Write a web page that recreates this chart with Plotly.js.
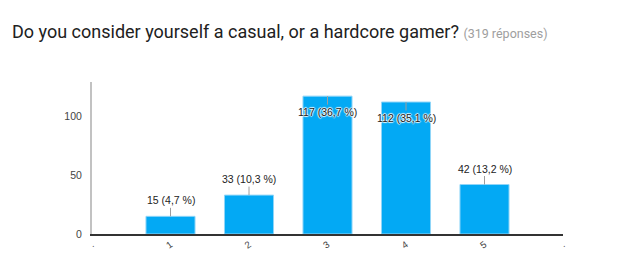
<!DOCTYPE html>
<html>
<head>
<meta charset="utf-8">
<script src="https://cdn.plot.ly/plotly-3.0.1.min.js"></script>
<style>html,body{margin:0;padding:0;background:#fff;}#chart{width:617px;height:274px;}</style>
</head>
<body>
<div id="chart"></div>
<script>
const categories = [1, 2, 3, 4, 5];
const counts = [15, 33, 117, 112, 42];
const percents = ["4,7", "10,3", "36,7", "35,1", "13,2"];
const tickValues = [0, 1, 2, 3, 4, 5, 6];
const tickLabels = [".", "1", "2", "3", "4", "5", "."];
const yTicks = [0, 50, 100];
const totalResponses = 319;

const yMax = 129;
const annotations = categories.map((c, i) => {
  const inside = counts[i] > 0.85 * yMax;
  return {
    x: c, y: counts[i], xref: 'x', yref: 'y',
    text: counts[i] + ' (' + percents[i] + ' %)',
    showarrow: true, arrowhead: 0, arrowwidth: 1, arrowcolor: '#9e9e9e',
    ax: 0, ay: inside ? 16 : -16, standoff: 0,
    font: {family: 'Arial, Liberation Sans, sans-serif', size: 10.5, color: '#222',
           shadow: inside ? '1px 0 1px #fff, -1px 0 1px #fff, 0 1px 1px #fff, 0 -1px 1px #fff' : 'none'}
  };
});

const data = [{
  type: 'bar', x: categories, y: counts, width: 0.625,
  marker: {color: '#03a9f4', line: {color: '#90d5f8', width: 1}},
  hoverinfo: 'none'
}];

const layout = {
  width: 617, height: 274,
  margin: {l: 92, r: 54, t: 82, b: 40, pad: 0},
  paper_bgcolor: '#fff', plot_bgcolor: '#fff',
  showlegend: false,
  title: {
    text: 'Do you consider yourself a casual, or a hardcore gamer? <span style="font-size:12.5px;color:#9e9e9e">(' + totalResponses + ' réponses)</span>',
    x: 12 / 617, xref: 'container', xanchor: 'left',
    y: 1 - 32 / 274, yref: 'container', yanchor: 'middle',
    font: {family: 'Roboto, sans-serif', size: 18, color: '#212121'}
  },
  xaxis: {
    range: [0, 6], tickvals: tickValues, ticktext: tickLabels,
    tickangle: -35, ticks: '', showgrid: false, zeroline: false,
    showline: true, linecolor: '#333', linewidth: 1.5,
    tickfont: {family: 'Arial, sans-serif', size: 9.5, color: '#444'},
    fixedrange: true
  },
  yaxis: {
    range: [0, yMax], tickvals: yTicks, ticks: '', showgrid: false, zeroline: false,
    showline: true, linecolor: '#c2c2c2', linewidth: 2,
    tickfont: {family: 'Arial, sans-serif', size: 10.5, color: '#444'},
    ticklabelstandoff: 6,
    fixedrange: true
  },
  annotations: annotations
};

Plotly.newPlot('chart', data, layout, {displayModeBar: false, staticPlot: true});
</script>
</body>
</html>
